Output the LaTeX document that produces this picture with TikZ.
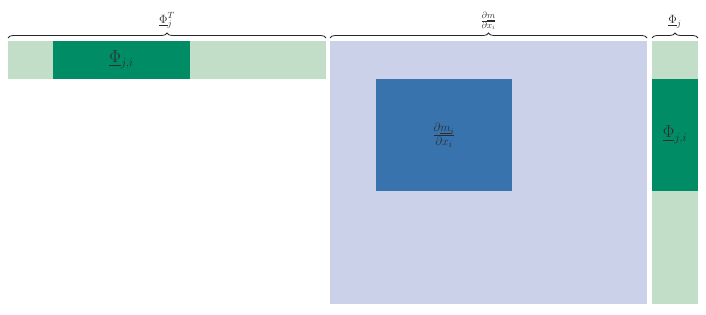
\documentclass[tikz,border=0pt]{standalone}
\usepackage{amsmath}
\usepackage{amssymb}
\usepackage{tikz}
\usetikzlibrary{decorations.pathreplacing}
\usepackage{xcolor}
\definecolor{palegreen}{RGB}{194,222,200}
\definecolor{deepgreen}{RGB}{0,140,100}
\definecolor{paleblue}{RGB}{203,209,232}
\definecolor{deepblue}{RGB}{56,115,174}
\definecolor{inkgray}{RGB}{45,45,45}

\begin{document}
\begin{tikzpicture}[x=1pt,y=-1pt,
  cell/.style={rectangle,inner sep=0pt,outer sep=0pt,anchor=north west,text=inkgray,font=\fontsize{18}{20}\selectfont},
  curly/.style={decorate,decoration={brace,amplitude=5pt},line width=0.8pt,black!85},
  toplab/.style={above,inner sep=2pt,text=inkgray,font=\fontsize{13}{15}\selectfont}]
  \useasboundingbox (0,0) rectangle (706,315);
  % row vector
  \node[cell,fill=palegreen,minimum width=318,minimum height=38] (row) at (8,41) {};
  \node[cell,fill=deepgreen,minimum width=137,minimum height=38] (rowpart) at (53,41) {$\underline{\Phi}_{j,i}$};
  % jacobian
  \node[cell,fill=paleblue,minimum width=317,minimum height=263] (jac) at (330,41) {};
  \node[cell,fill=deepblue,minimum width=136,minimum height=112] (jacpart) at (376,79) {$\frac{\partial \underline{m}_i}{\partial x_i}$};
  % column vector
  \node[cell,fill=palegreen,minimum width=46,minimum height=263] (col) at (652,41) {};
  \node[cell,fill=deepgreen,minimum width=46,minimum height=112] (colpart) at (652,79) {$\underline{\Phi}_{j,i}$};
  % braces
  \draw[curly] ([yshift=3]row.north west) -- node[toplab,yshift=7]{$\underline{\Phi}_j^T$} ([yshift=3]row.north east);
  \draw[curly] ([yshift=3]jac.north west) -- node[toplab,yshift=6]{$\frac{\partial \underline{m}}{\partial x_i}$} ([yshift=3]jac.north east);
  \draw[curly] ([yshift=3]col.north west) -- node[toplab,yshift=7]{$\underline{\Phi}_j$} ([yshift=3]col.north east);
\end{tikzpicture}
\end{document}
